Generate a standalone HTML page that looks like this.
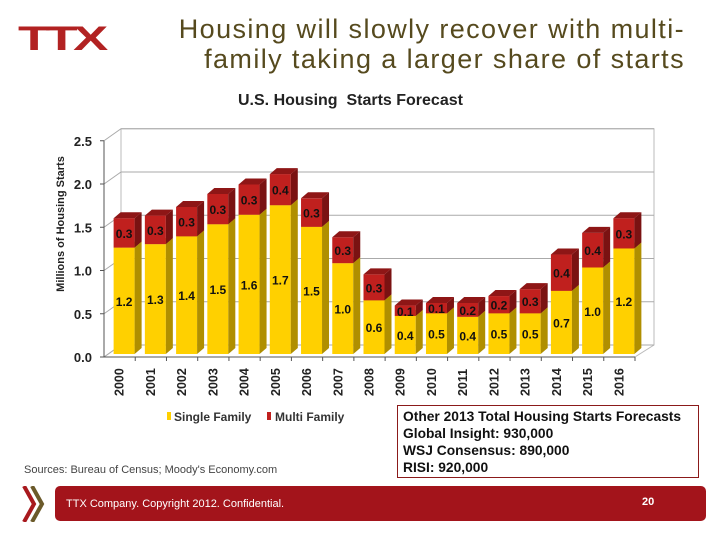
<!DOCTYPE html>
<html><head><meta charset="utf-8"><style>
body{margin:0;width:720px;height:540px;background:#fff;overflow:hidden;font-family:"Liberation Sans",sans-serif;position:relative}
.abs{position:absolute}
</style></head><body>
<div class="abs" style="left:18px;top:20px;font:900 34px 'Liberation Sans',sans-serif;color:#b22222;letter-spacing:-3px;transform:scaleX(1.55);transform-origin:left">TTX</div>
<div class="abs" style="left:100px;top:14px;width:585px;text-align:right;font:27px/30px 'Liberation Sans',sans-serif;letter-spacing:1.4px;color:#564a1e">Housing will slowly recover with multi-<br>family taking a larger share of starts</div>
<div class="abs" style="left:238px;top:92px;font:bold 16px 'Liberation Sans',sans-serif;color:#222">U.S. Housing&nbsp; Starts Forecast</div>
<svg class="abs" style="left:0;top:0" width="720" height="540" id="chart"></svg>
<div class="abs" style="left:24px;top:464px;font:11px 'Liberation Sans',sans-serif;color:#444">Sources: Bureau of Census; Moody's Economy.com</div>
<div class="abs" style="left:397px;top:405px;width:302px;height:73px;border:1px solid #8b1a1a;box-sizing:border-box;padding:2px 5px;font:bold 13.8px/17px 'Liberation Sans',sans-serif;color:#111;white-space:nowrap">Other 2013 Total Housing Starts Forecasts<br>Global Insight: 930,000<br>WSJ Consensus: 890,000<br>RISI: 920,000</div>
<svg class="abs" style="left:22px;top:486px" width="30" height="36"><path d="M2 0 L12 18 L2 36" stroke="#a8191e" stroke-width="4" fill="none"/><path d="M10 0 L20 18 L10 36" stroke="#6b5a2a" stroke-width="4" fill="none"/></svg>
<div class="abs" style="left:55px;top:486px;width:651px;height:35px;background:#a3141b;border-radius:5px"></div>
<div class="abs" style="left:66px;top:498px;font:11px 'Liberation Sans',sans-serif;color:#fff">TTX Company. Copyright 2012. Confidential.</div>
<div class="abs" style="left:642px;top:496px;font:bold 11px 'Liberation Sans',sans-serif;color:#fff">20</div>
<script>
const categories=["2000","2001","2002","2003","2004","2005","2006","2007","2008","2009","2010","2011","2012","2013","2014","2015","2016"];
const singleFamily=[1.23,1.27,1.36,1.50,1.61,1.72,1.47,1.05,0.62,0.44,0.47,0.43,0.47,0.47,0.73,1.0,1.22];
const multiFamily=[0.34,0.33,0.34,0.35,0.35,0.36,0.33,0.30,0.30,0.12,0.12,0.16,0.20,0.28,0.42,0.40,0.35];
const singleLabels=["1.2","1.3","1.4","1.5","1.6","1.7","1.5","1.0","0.6","0.4","0.5","0.4","0.5","0.5","0.7","1.0","1.2"];
const multiLabels=["0.3","0.3","0.3","0.3","0.3","0.4","0.3","0.3","0.3","0.1","0.1","0.2","0.2","0.3","0.4","0.4","0.3"];
const yTicks=[0,0.5,1.0,1.5,2.0,2.5];
const NS="http://www.w3.org/2000/svg";
const svg=document.getElementById('chart');
const x0=104,x1=635,y0=357,pxPerUnit=86.5,dx=17,dy=12;
const slot=(x1-x0)/categories.length;
const y=v=>y0-v*pxPerUnit;
function mk(tag,attrs,parent){const e=document.createElementNS(NS,tag);for(const k in attrs)e.setAttribute(k,attrs[k]);(parent||svg).appendChild(e);return e;}
const wall=mk('path',{d:`M${x0} ${y0} L${x0+dx} ${y0-dy} L${x0+dx} ${y(2.5)-dy} M${x0+dx} ${y(2.5)-dy} L${x1+dx+2} ${y(2.5)-dy} L${x1+dx+2} ${y0-dy} L${x1} ${y0}`,fill:'none',stroke:'#bbb'});


yTicks.forEach(t=>{
  const g=mk('path',{d:`M${x0} ${y(t)} L${x0+dx} ${y(t)-dy} L${x1+dx+2} ${y(t)-dy}`,fill:'none',stroke:'#aaa'});
  
  
  const tl=mk('text',{x:x0-12,y:y(t)+5,'text-anchor':'end','font-size':'13','font-weight':'bold',fill:'#222','font-family':'Liberation Sans'});
  tl.textContent=t.toFixed(1);
  
  
  mk('line',{x1:x0-4,y1:y(t),x2:x0,y2:y(t),stroke:'#555'});
});
mk('line',{x1:x0,y1:y0,x2:x0,y2:y(2.5),stroke:'#555'});
mk('line',{x1:x0,y1:y0,x2:x1,y2:y0,stroke:'#555'});
const yt=mk('text',{transform:'translate(64 224) rotate(-90)','text-anchor':'middle','font-size':'11','font-weight':'bold',fill:'#222','font-family':'Liberation Sans'});
yt.textContent='Millions of Housing Starts';


const bw=21,bdx=7,bdy=6,base=y0-3;
function box(xl,top,bot,front,side,topc,name){
  const g=mk('g',{});
  
  
  mk('rect',{x:xl,y:top,width:bw,height:bot-top,fill:front},g);
  mk('path',{d:`M${xl+bw} ${top} L${xl+bw+bdx} ${top-bdy} L${xl+bw+bdx} ${bot-bdy} L${xl+bw} ${bot}Z`,fill:side},g);
  mk('path',{d:`M${xl} ${top} L${xl+bdx} ${top-bdy} L${xl+bw+bdx} ${top-bdy} L${xl+bw} ${top}Z`,fill:topc},g);
}
categories.forEach((c,i)=>{
  const xl=x0+i*slot+(slot-bw-bdx)/2+8;
  const s=singleFamily[i],m=multiFamily[i];
  const ys=base-s*pxPerUnit, ym=base-(s+m)*pxPerUnit;
  box(xl,ys,base,'#ffd000','#b08f00','#e0b800','bar-single-'+c);
  box(xl,ym,ys,'#c0201e','#7a1212','#8e1616','bar-multi-'+c);
  const l1=mk('text',{x:xl+bw/2,y:(ys+base)/2+5,'text-anchor':'middle','font-size':'12','font-weight':'bold',fill:'#111','font-family':'Liberation Sans'});
  l1.textContent=singleLabels[i];
  
  
  const l2=mk('text',{x:xl+bw/2,y:(ym+ys)/2+5,'text-anchor':'middle','font-size':'12','font-weight':'bold',fill:'#111','font-family':'Liberation Sans'});
  l2.textContent=multiLabels[i];
  
  
  mk('line',{x1:x0+(i+1)*slot,y1:y0,x2:x0+(i+1)*slot,y2:y0+4,stroke:'#555'});
  const cx=x0+i*slot+slot/2+4;
  const cl=mk('text',{transform:`translate(${cx} 396) rotate(-90)`,'font-size':'12.5','font-weight':'bold',fill:'#222','font-family':'Liberation Sans'});
  cl.textContent=c;
  
  
});
const lg=mk('g',{});


mk('rect',{x:167,y:412,width:4,height:8,fill:'#ffd000'},lg);
const t1=mk('text',{x:174,y:421,'font-size':'12','font-weight':'bold',fill:'#333','font-family':'Liberation Sans'},lg);t1.textContent='Single Family';
mk('rect',{x:267,y:412,width:4,height:8,fill:'#c0201e'},lg);
const t2=mk('text',{x:275,y:421,'font-size':'12','font-weight':'bold',fill:'#333','font-family':'Liberation Sans'},lg);t2.textContent='Multi Family';
</script>
</body></html>
